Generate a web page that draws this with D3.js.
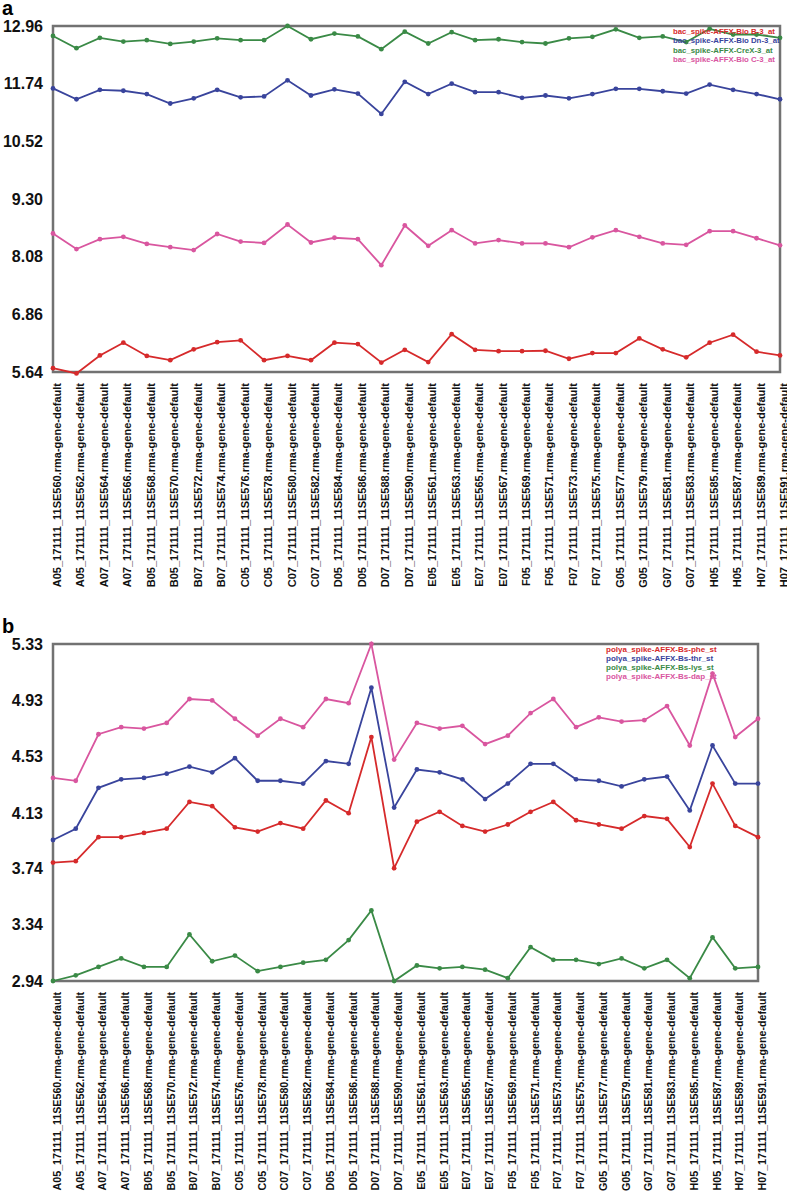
<!DOCTYPE html>
<html>
<head>
<meta charset="utf-8">
<script src="https://cdn.jsdelivr.net/npm/d3@7.9.0/dist/d3.min.js"></script>
<style>
  body { margin: 0; background: #fff; }
  svg { display: block; font-family: Arial, "Liberation Sans", sans-serif; }
</style>
</head>
<body>
<svg id="chart" width="787" height="1196"></svg>
<script>
// sample names (x axis, same for both panels)
const categories = [
  "A05_171111_11SE560.rma-gene-default", "A05_171111_11SE562.rma-gene-default",
  "A07_171111_11SE564.rma-gene-default", "A07_171111_11SE566.rma-gene-default",
  "B05_171111_11SE568.rma-gene-default", "B05_171111_11SE570.rma-gene-default",
  "B07_171111_11SE572.rma-gene-default", "B07_171111_11SE574.rma-gene-default",
  "C05_171111_11SE576.rma-gene-default", "C05_171111_11SE578.rma-gene-default",
  "C07_171111_11SE580.rma-gene-default", "C07_171111_11SE582.rma-gene-default",
  "D05_171111_11SE584.rma-gene-default", "D05_171111_11SE586.rma-gene-default",
  "D07_171111_11SE588.rma-gene-default", "D07_171111_11SE590.rma-gene-default",
  "E05_171111_11SE561.rma-gene-default", "E05_171111_11SE563.rma-gene-default",
  "E07_171111_11SE565.rma-gene-default", "E07_171111_11SE567.rma-gene-default",
  "F05_171111_11SE569.rma-gene-default", "F05_171111_11SE571.rma-gene-default",
  "F07_171111_11SE573.rma-gene-default", "F07_171111_11SE575.rma-gene-default",
  "G05_171111_11SE577.rma-gene-default", "G05_171111_11SE579.rma-gene-default",
  "G07_171111_11SE581.rma-gene-default", "G07_171111_11SE583.rma-gene-default",
  "H05_171111_11SE585.rma-gene-default", "H05_171111_11SE587.rma-gene-default",
  "H07_171111_11SE589.rma-gene-default", "H07_171111_11SE591.rma-gene-default"
];

// panel a: bac_spike controls
const bacBioB = [5.72, 5.61, 5.99, 6.26, 5.98, 5.89, 6.12, 6.27, 6.31, 5.89, 5.98, 5.89, 6.26, 6.23, 5.84, 6.11,
                 5.85, 6.44, 6.11, 6.08, 6.08, 6.09, 5.92, 6.04, 6.04, 6.35, 6.12, 5.95, 6.26, 6.43, 6.07, 5.99];
const bacBioDn = [11.64, 11.41, 11.61, 11.59, 11.52, 11.32, 11.43, 11.61, 11.45, 11.47, 11.81, 11.49, 11.62, 11.53, 11.10, 11.78,
                  11.52, 11.74, 11.56, 11.56, 11.44, 11.49, 11.43, 11.52, 11.63, 11.63, 11.58, 11.53, 11.72, 11.61, 11.52, 11.41];
const bacCreX = [12.75, 12.49, 12.71, 12.63, 12.66, 12.58, 12.63, 12.70, 12.66, 12.66, 12.96, 12.68, 12.80, 12.74, 12.47, 12.84,
                 12.59, 12.83, 12.66, 12.68, 12.62, 12.59, 12.70, 12.73, 12.89, 12.71, 12.74, 12.62, 12.90, 12.78, 12.78, 12.71];
const bacBioC = [8.57, 8.24, 8.45, 8.50, 8.35, 8.28, 8.22, 8.56, 8.40, 8.37, 8.76, 8.38, 8.48, 8.45, 7.90, 8.74,
                 8.31, 8.64, 8.36, 8.43, 8.36, 8.36, 8.28, 8.49, 8.64, 8.50, 8.36, 8.33, 8.62, 8.62, 8.47, 8.32];
const namesA = ["bac_spike-AFFX-Bio B-3_at", "bac_spike-AFFX-Bio Dn-3_at", "bac_spike-AFFX-CreX-3_at", "bac_spike-AFFX-Bio C-3_at"];
const ticksA = [5.64, 6.86, 8.08, 9.30, 10.52, 11.74, 12.96];

// panel b: polya_spike controls
const polyaPhe = [3.78, 3.79, 3.96, 3.96, 3.99, 4.02, 4.21, 4.18, 4.03, 4.00, 4.06, 4.02, 4.22, 4.13, 4.67, 3.74,
                  4.07, 4.14, 4.04, 4.00, 4.05, 4.14, 4.21, 4.08, 4.05, 4.02, 4.11, 4.09, 3.89, 4.34, 4.04, 3.96];
const polyaThr = [3.94, 4.02, 4.31, 4.37, 4.38, 4.41, 4.46, 4.42, 4.52, 4.36, 4.36, 4.34, 4.50, 4.48, 5.02, 4.17,
                  4.44, 4.42, 4.37, 4.23, 4.34, 4.48, 4.48, 4.37, 4.36, 4.32, 4.37, 4.39, 4.15, 4.61, 4.34, 4.34];
const polyaLys = [2.94, 2.98, 3.04, 3.10, 3.04, 3.04, 3.27, 3.08, 3.12, 3.01, 3.04, 3.07, 3.09, 3.23, 3.44, 2.94,
                  3.05, 3.03, 3.04, 3.02, 2.96, 3.18, 3.09, 3.09, 3.06, 3.10, 3.03, 3.09, 2.96, 3.25, 3.03, 3.04];
const polyaDap = [4.38, 4.36, 4.69, 4.74, 4.73, 4.77, 4.94, 4.93, 4.80, 4.68, 4.80, 4.74, 4.94, 4.91, 5.33, 4.51,
                  4.77, 4.73, 4.75, 4.62, 4.68, 4.84, 4.94, 4.74, 4.81, 4.78, 4.79, 4.89, 4.61, 5.12, 4.67, 4.80];
const namesB = ["polya_spike-AFFX-Bs-phe_st", "polya_spike-AFFX-Bs-thr_st", "polya_spike-AFFX-Bs-lys_st", "polya_spike-AFFX-Bs-dap_st"];
const ticksB = [2.94, 3.34, 3.74, 4.13, 4.53, 4.93, 5.33];

const colors = ["#d62a2b", "#39449c", "#3a8a46", "#d9569f"];

const svg = d3.select("#chart");

function drawPanel(p) {
  const g = svg.append("g");

  const x = d3.scalePoint().domain(categories).range([p.left, p.right]);
  const y = d3.scaleLinear()
    .domain([p.ticks[0], p.ticks[p.ticks.length - 1]])
    .range([p.bottom, p.top]);

  // panel letter
  g.append("text")
    .attr("x", 2)
    .attr("y", p.top - 11)
    .attr("font-size", 20)
    .attr("font-weight", "bold")
    .text(p.letter);

  // y tick labels (no tick marks)
  const yAxis = g.append("g")
    .attr("transform", `translate(${p.left},0)`)
    .call(d3.axisLeft(y).tickValues(p.ticks).tickFormat(d3.format(".2f")).tickSize(0).tickPadding(10));
  yAxis.select(".domain").remove();
  yAxis.selectAll("text")
    .attr("font-size", 16)
    .attr("font-weight", "bold")
    .attr("fill", "#111");

  // x labels, rotated
  const xAxis = g.append("g")
    .attr("transform", `translate(0,${p.bottom})`)
    .call(d3.axisBottom(x).tickSize(0));
  xAxis.select(".domain").remove();
  xAxis.selectAll("text")
    .attr("transform", "rotate(-90)")
    .attr("text-anchor", "end")
    .attr("x", -11)
    .attr("y", 7.5)
    .attr("dy", 0)
    .attr("font-size", p.labelSize)
    .attr("font-weight", "bold")
    .attr("fill", "#111");

  // frame
  g.append("rect")
    .attr("x", p.left)
    .attr("y", p.top)
    .attr("width", p.right - p.left)
    .attr("height", p.bottom - p.top)
    .attr("fill", "none")
    .attr("stroke", "#727272")
    .attr("stroke-width", 2.5);

  const line = d3.line()
    .x((d, i) => x(categories[i]))
    .y((d) => y(d));

  p.series.forEach((values, k) => {
    g.append("path")
      .datum(values)
      .attr("d", line)
      .attr("fill", "none")
      .attr("stroke", colors[k])
      .attr("stroke-width", 1.8);

    g.append("g")
      .selectAll("circle")
      .data(values)
      .join("circle")
      .attr("cx", (d, i) => x(categories[i]))
      .attr("cy", (d) => y(d))
      .attr("r", 2.4)
      .attr("fill", colors[k]);
  });

  // legend
  g.append("g")
    .selectAll("text")
    .data(p.names)
    .join("text")
    .attr("x", p.legendX)
    .attr("y", (d, i) => p.legendY + i * p.legendStep)
    .attr("font-size", p.legendSize)
    .attr("font-weight", "bold")
    .attr("fill", (d, i) => colors[i])
    .text((d) => d);
}

drawPanel({
  letter: "a", left: 53, right: 780, top: 26, bottom: 372,
  ticks: ticksA, series: [bacBioB, bacBioDn, bacCreX, bacBioC], names: namesA,
  labelSize: 11, legendX: 673, legendY: 34, legendStep: 9.3, legendSize: 7.8
});

drawPanel({
  letter: "b", left: 53, right: 758, top: 644, bottom: 981,
  ticks: ticksB, series: [polyaPhe, polyaThr, polyaLys, polyaDap], names: namesB,
  labelSize: 10.7, legendX: 606, legendY: 652, legendStep: 9, legendSize: 8
});
</script>
</body>
</html>
